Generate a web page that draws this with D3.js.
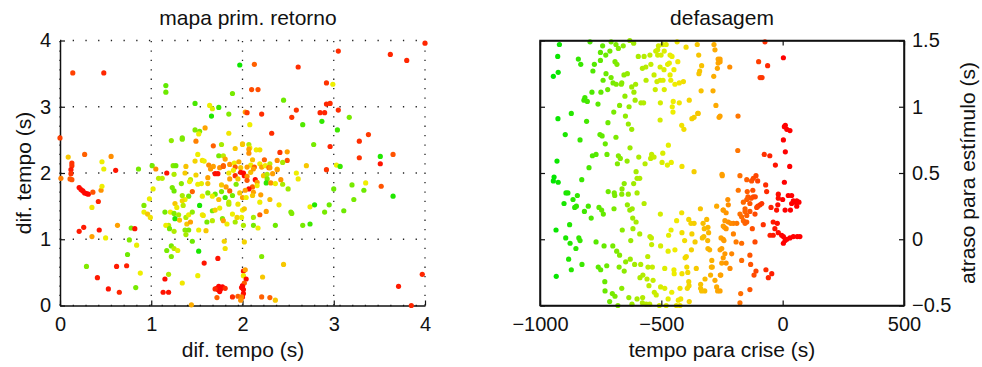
<!DOCTYPE html>
<html>
<head>
<meta charset="utf-8">
<script src="https://cdnjs.cloudflare.com/ajax/libs/d3/7.8.5/d3.min.js"></script>
<style>
body { margin: 0; background: #fff; }
text { font-family: "Liberation Sans", Arial, Helvetica, sans-serif; fill: #111; }
</style>
</head>
<body>
<div id="chart"></div>
<script>
'use strict';

// tick labels
var retornoTicks = [0, 1, 2, 3, 4];
var tempoTicks = [-1000, -500, 0, 500];
var atrasoTicks = [-0.5, 0, 0.5, 1, 1.5];

// left panel: [dif. tempo n, dif. tempo n+1, tempo para crise (colour)]
var retorno = [
[0.14,3.51,-100],[0.48,3.51,-60],[1.97,3.63,-920],[1.16,3.32,-750],[1.16,3.22,-720],[1.89,3.20,-700],[1.48,3.05,-800],[1.64,3.02,-450],[1.67,2.97,-480],[1.74,2.99,-820],
[1.66,2.86,-880],[1.85,2.89,-680],[2.03,2.92,-250],[0.00,2.53,-100],[1.48,2.65,-680],[1.53,2.63,-700],[1.52,2.59,-450],[1.59,2.68,-260],[1.22,2.49,-650],[1.34,2.51,-680],
[1.34,2.53,-690],[1.49,2.48,-200],[1.68,2.41,-150],[1.85,2.60,-430],[1.77,2.43,-600],[1.92,2.37,-350],[2.00,2.44,-330],[0.09,2.24,-350],[0.27,2.28,-150],[0.46,2.17,-450],
[0.56,2.25,-220],[0.13,2.15,-80],[0.13,2.11,-80],[1.51,2.28,-450],[1.48,2.18,-380],[1.56,2.19,-420],[1.58,2.18,-450],[1.74,2.26,-700],[1.79,2.26,-550],[1.81,2.21,-260],
[1.63,2.12,-220],[1.68,2.10,-250],[1.79,2.11,-150],[1.86,2.13,-230],[1.91,2.15,-450],[1.96,2.17,-280],[1.92,2.09,-140],[1.98,2.08,-350],[1.01,2.11,-700],[1.24,2.11,-680],
[1.27,2.11,-720],[1.38,2.10,-340],[0.48,2.06,-460],[0.61,2.04,-30],[0.86,2.06,-700],[1.05,2.06,-220],[0.12,2.05,-40],
[2.13,3.64,-150],[2.61,3.60,-70],[3.05,3.84,-70],[3.62,3.79,-60],[3.80,3.70,-60],[4.00,3.96,-60],[2.10,3.26,-120],[2.17,3.26,-120],[2.92,3.36,-80],[2.99,3.34,-450],
[2.45,3.10,-720],[2.92,3.04,-60],[2.96,3.05,-70],[2.05,2.91,-90],[2.21,2.89,-70],[2.59,2.95,-80],[2.54,2.84,-80],[2.85,2.91,-60],[2.90,2.91,-60],[3.05,2.95,-70],
[2.87,2.78,-850],[2.66,2.73,-780],[3.17,2.84,-700],[2.08,2.73,-450],[3.04,2.65,-820],[2.32,2.60,-70],[3.28,2.48,-70],[3.38,2.58,-90],[2.78,2.43,-700],[2.96,2.40,-60],
[2.00,2.43,-350],[2.07,2.43,-580],[2.08,2.38,-450],[2.15,2.35,-450],[2.19,2.35,-420],[2.07,2.36,-250],[2.07,2.30,-230],[2.41,2.31,-80],[2.49,2.32,-250],[2.11,2.20,-330],
[2.24,2.20,-150],[2.38,2.19,-220],[2.49,2.19,-130],[3.28,2.23,-80],[3.51,2.25,-880],[3.65,2.28,-130],[3.51,2.14,-30],[2.09,2.12,-450],[2.19,2.14,-450],[2.30,2.14,-550],
[2.44,2.16,-600],[2.70,2.11,-350],[3.03,2.12,-450],[3.07,2.10,-830],[2.05,2.09,-250],[2.13,2.09,-150],[2.21,2.09,-260],[2.25,2.11,-450],[2.29,2.08,-140],[2.38,2.06,-420],
[2.92,2.05,-80],
[0.01,1.92,-200],[0.11,1.91,-150],[0.13,1.90,-130],[0.12,1.99,-80],[0.21,1.78,-20],[0.23,1.75,-20],[0.25,1.73,-15],[0.27,1.70,-10],[0.29,1.69,-10],[0.31,1.68,-5],
[0.36,1.71,-130],[0.45,1.74,-230],[0.46,1.80,-450],[0.42,1.57,-60],[0.35,1.48,-430],[0.92,1.51,-680],[0.92,1.41,-450],[0.96,1.38,-350],[0.99,1.33,-420],[0.98,1.61,-450],
[1.02,1.76,-460],[1.08,1.92,-560],[1.12,1.92,-560],[1.17,2.00,-30],[1.25,1.98,-580],[1.37,2.00,-360],[1.23,1.78,-700],[1.25,1.73,-720],[1.33,1.84,-660],[1.43,1.90,-560],
[1.42,1.87,-450],[1.49,1.97,-380],[1.51,1.83,-450],[1.55,1.84,-470],[1.62,1.93,-250],[1.62,1.84,-340],[1.65,2.06,-240],[1.70,1.99,-20],[1.73,1.99,-20],[1.75,2.08,-230],
[1.79,2.10,-150],[1.85,2.00,-430],[1.86,1.91,-250],[1.90,2.04,-450],[1.92,1.96,-70],[1.98,2.01,-30],[1.95,1.91,-350],[1.77,1.82,-350],[1.82,1.79,-250],[1.86,1.73,-150],
[1.93,1.83,-680],[1.89,1.66,-700],[1.81,1.63,-800],[1.74,1.60,-330],[1.77,1.72,-690],[1.70,1.68,-720],[1.67,1.65,-450],[1.62,1.70,-660],[1.56,1.65,-460],[1.53,1.51,-900],
[1.45,1.72,-150],[1.41,1.65,-700],[1.37,1.60,-450],[1.34,1.66,-600],[1.34,1.58,-380],[1.26,1.54,-350],[1.28,1.48,-440],[1.35,1.51,-560],[1.21,1.41,-450],[1.15,1.41,-700],
[1.25,1.39,-680],[1.30,1.37,-600],[1.26,1.31,-880],[1.31,1.29,-330],[1.38,1.33,-580],[1.41,1.37,-460],[1.45,1.41,-650],[1.56,1.37,-450],[1.57,1.36,-430],[1.67,1.43,-700],
[1.70,1.44,-370],[1.75,1.47,-450],[1.78,1.31,-680],[1.79,1.28,-250],[1.67,1.28,-560],[1.61,1.26,-700],[1.83,1.23,-450],[1.92,1.26,-600],[1.94,1.33,-380],[1.89,1.38,-450],
[1.85,1.53,-580],[1.85,1.56,-550],[1.95,1.53,-430],[2.00,1.44,-450],[2.00,1.63,-250],[1.97,1.70,-350],[1.39,1.23,-350],[1.43,1.26,-250],[1.19,1.21,-560],[1.16,1.21,-450],
[1.20,1.16,-700],[1.25,1.12,-580],[1.37,1.14,-660],[1.41,1.14,-680],[1.38,1.07,-600],[1.52,1.14,-450],[1.60,1.13,-350],[1.45,0.97,-720],[1.52,0.82,-900],[1.73,0.71,-30],
[1.80,0.97,-380],[1.81,0.86,-420],[1.58,0.64,-30],[1.51,0.45,-450],[1.17,0.83,-700],[1.22,0.90,-700],[1.25,0.86,-560],[1.29,0.83,-470],[1.22,0.74,-680],[1.19,0.47,-580],
[1.15,0.40,-20],[1.13,0.20,-30],[1.19,0.20,-30],[1.34,0.34,-430],[1.44,0.01,-280],[1.72,0.26,-10],[1.74,0.29,-10],[1.76,0.25,-5],[1.78,0.28,-5],[1.73,0.24,-10],
[1.75,0.21,-10],[1.70,0.25,-60],[1.81,0.26,-70],[1.72,0.12,-150],[1.89,0.13,-70],[1.95,0.14,-150],[1.99,0.27,-20],[2.00,0.30,-20],[2.01,0.18,-20],[2.00,0.13,-30],
[0.76,0.99,-680],[0.84,0.91,-460],[0.74,0.77,-720],[0.78,1.17,-700],[0.82,1.16,-30],[0.63,1.21,-250],[0.50,1.02,-450],[0.35,1.04,-250],[0.43,1.14,-30],[0.26,1.18,-40],
[0.21,1.12,-40],[0.29,0.59,-680],[0.62,0.59,-40],[0.73,0.60,-50],[0.88,0.49,-450],[0.41,0.42,-40],[0.53,0.25,-30],[0.65,0.20,-60],[0.83,0.27,-700],
[2.01,2.00,-10],[2.02,1.96,-10],[2.05,1.95,-230],[2.09,2.01,-330],[2.12,2.06,-250],[2.30,2.08,-240],[2.23,1.96,-350],[2.27,1.98,-580],[2.27,1.91,-680],[2.33,1.99,-250],
[2.38,2.05,-250],[2.26,1.85,-850],[2.31,1.85,-220],[2.36,1.84,-450],[2.44,1.83,-600],[2.50,1.76,-620],[2.42,1.90,-230],[2.05,1.89,-130],[2.14,1.90,-20],[2.16,1.86,-240],
[2.11,1.79,-150],[2.07,1.76,-20],[2.12,1.71,-250],[2.03,1.74,-250],[2.16,1.81,-450],[2.20,1.67,-250],[2.11,1.66,-350],[2.04,1.63,-450],[2.30,1.60,-330],[2.19,1.56,-450],
[2.40,1.52,-440],[2.26,1.42,-250],[2.19,1.37,-150],[2.02,1.46,-350],[1.99,1.33,-450],[2.12,1.33,-600],[2.01,1.21,-580],[2.12,1.21,-700],[2.17,1.17,-450],[2.36,1.21,-720],
[2.53,1.41,-680],[2.54,1.39,-680],[2.74,1.49,-450],[2.79,1.52,-880],[2.90,1.41,-700],[2.95,1.52,-720],[2.66,1.21,-700],[2.74,1.23,-820],[2.59,2.00,-450],[2.61,1.91,-440],
[3.00,1.76,-720],[3.11,1.43,-720],[3.20,1.82,-700],[3.22,1.60,-700],[3.33,1.74,-720],[3.35,1.85,-450],[3.52,1.80,-130],[3.65,1.65,-880],[2.02,0.96,-380],[2.21,0.74,-680],
[2.45,0.62,-350],[2.01,0.52,-20],[2.03,0.54,-250],[2.01,0.45,-450],[2.04,0.40,-20],[2.02,0.34,-140],[2.00,0.29,-10],[2.01,0.24,-10],[2.22,0.43,-350],[1.99,0.13,-200],
[2.21,0.13,-150],[2.30,0.12,-150],[2.36,0.08,-350],[3.71,0.29,-40],[3.97,0.47,-60],[3.85,0.00,-60],[1.98,0.08,-230]
];

// right panel: [tempo para crise (s), atraso para estimulo (s)]
var defasagem = [
[-920,1.47],[-927,1.38],[-925,1.26],[-945,1.23],[-794,1.49],[-842,1.36],[-832,1.32],[-742,1.46],[-707,1.49],[-712,1.42],
[-687,1.47],[-677,1.44],[-657,1.46],[-630,1.50],[-614,1.48],[-751,1.41],[-729,1.39],[-751,1.35],[-776,1.32],[-782,1.27],
[-691,1.34],[-683,1.32],[-728,1.25],[-707,1.22],[-740,1.20],[-699,1.18],[-686,1.17],[-663,1.18],[-665,1.17],[-654,1.24],
[-640,1.25],[-721,1.13],[-749,1.11],[-786,1.11],[-815,1.07],[-819,1.05],[-805,1.04],[-761,1.02],[-871,0.95],[-926,0.91],
[-808,0.89],[-896,0.79],[-835,0.75],[-753,0.79],[-744,0.78],[-731,0.72],[-687,0.77],[-696,0.96],[-720,0.88],[-672,1.01],
[-648,0.93],[-636,0.87],[-622,0.83],[-633,1.00],[-650,1.08],[-622,1.15],[-613,1.11],[-606,1.17],[-608,1.05],[-584,1.03],
[-573,1.03],[-629,0.69],[-724,0.64],[-769,0.64],[-784,0.63],[-677,0.63],[-669,0.61],[-641,0.59],[-681,0.57],[-930,0.59],
[-798,0.54],
[-595,1.38],[-571,1.38],[-547,1.39],[-564,1.30],[-578,1.29],[-543,1.32],[-530,1.24],[-563,1.20],[-523,1.42],[-515,1.43],
[-512,1.46],[-494,1.47],[-480,1.47],[-515,1.39],[-501,1.39],[-488,1.42],[-464,1.39],[-456,1.38],[-474,1.32],[-467,1.33],
[-505,1.30],[-489,1.28],[-448,1.28],[-432,1.34],[-464,1.24],[-518,1.19],[-505,1.20],[-493,1.20],[-461,1.20],[-444,1.17],
[-426,1.18],[-409,1.19],[-525,1.13],[-488,1.13],[-504,1.03],[-451,1.04],[-426,1.03],[-455,1.00],[-452,0.96],[-385,1.05],
[-505,0.90],[-416,0.86],[-407,0.83],[-374,0.91],[-365,0.92],[-350,0.95],[-348,0.95],[-471,0.71],[-540,0.64],[-544,0.61],
[-530,0.62],[-567,0.57],[-593,0.62],[-494,0.65],[-497,0.58],[-475,0.56],[-459,0.58],[-415,0.55],[-435,1.49],[-398,1.45],
[-352,1.47],[-346,1.39],[-334,1.31],[-342,1.27],[-345,1.25],[-336,1.12],[-283,1.47],[-279,1.43],[-266,1.36],[-266,1.33],
[-269,1.29],[-284,1.23],[-287,1.12],[-275,1.01],[-262,0.92],
[-73,1.49],[-258,1.36],[-258,1.34],[-218,1.30],[-99,1.34],[-62,1.31],[3,1.37],[-93,1.22],[-85,1.22],[-258,0.93],
[-184,0.93],[11,0.86],[7,0.85],[17,0.83],[30,0.82],[3,0.75],[-185,0.67],[-76,0.64],[-53,0.63],[11,0.66],
[-30,0.56],[29,0.55],
[-365,0.51],[-250,0.49],[-942,0.47],[-945,0.44],[-925,0.43],[-828,0.45],[-604,0.51],[-600,0.46],[-589,0.46],[-614,0.42],
[-653,0.42],[-662,0.38],[-719,0.36],[-694,0.35],[-692,0.33],[-663,0.34],[-636,0.34],[-600,0.35],[-893,0.35],[-885,0.35],
[-846,0.33],[-864,0.30],[-901,0.27],[-857,0.24],[-850,0.25],[-801,0.25],[-817,0.21],[-757,0.24],[-746,0.22],[-739,0.19],
[-789,0.16],[-695,0.23],[-640,0.26],[-630,0.22],[-620,0.23],[-571,0.27],[-618,0.16],[-604,0.13],[-661,0.07],[-617,0.08],
[-589,0.04],[-547,0.02],[-541,0.01],[-626,-0.01],[-540,-0.04],[-504,0.19],[-878,0.11],[-934,0.07],[-894,0.01],[-840,0.01],
[-835,-0.01],[-876,-0.03],[-852,-0.07],[-769,-0.02],[-736,-0.05],[-700,-0.05],[-684,-0.09],[-672,-0.12],[-647,-0.17],[-628,-0.15],
[-610,-0.19],[-585,-0.19],[-556,-0.13],[-537,-0.21],[-555,-0.21],[-576,-0.27],[-588,-0.29],[-559,-0.30],[-534,-0.31],[-674,-0.21],
[-653,-0.24],[-760,-0.21],[-750,-0.23],[-725,-0.20],[-882,-0.15],[-871,-0.23],[-827,-0.19],[-933,-0.28],[-733,-0.32],[-732,-0.39],
[-702,-0.41],[-691,-0.43],[-663,-0.37],[-713,-0.47],[-679,-0.50],[-634,-0.44],[-600,-0.45],[-577,-0.44],[-621,-0.49],[-578,-0.48],
[-562,-0.49],[-548,-0.49],[-551,-0.35],[-529,-0.40],[-521,-0.42],[-503,-0.36],[-503,-0.05],[-486,-0.22],[-472,-0.09],[-448,-0.23],
[-447,-0.26],[-486,-0.37],[-472,-0.45],[-480,-0.50],[-457,-0.40],[-438,-0.50],[-423,-0.50],[-430,-0.46],[-420,-0.45],[-423,-0.37],
[-415,-0.26],[-470,0.03],[-460,0.07],[-444,-0.08],[-416,0.20],[-437,0.14],[-415,0.05],[-404,-0.01],[-402,-0.14],[-397,-0.13],
[-387,0.15],[-378,0.12],[-365,0.12],[-374,0.04],[-361,-0.02],[-376,-0.08],[-339,0.23],[-328,0.12],[-313,0.15],[-323,0.08],
[-308,0.09],[-305,0.05],[-325,0.02],[-309,-0.01],[-331,0.01],[-308,-0.07],[-301,-0.08],[-292,-0.16],[-290,-0.21],[-272,0.25],
[-245,0.22],[-240,0.09],[-254,0.01],[-258,-0.08],[-395,-0.21],[-356,-0.22],[-391,-0.25],[-387,-0.32],[-386,-0.35],[-393,-0.37],
[-338,-0.34],[-338,-0.37],[-320,-0.30],[-321,-0.39],[-297,-0.27],[-279,-0.31],[-257,-0.27],[-272,-0.36],[-268,-0.39],[-294,-0.21],
[-334,-0.39],
[-249,0.48],[-176,0.48],[-148,0.45],[-128,0.44],[-121,0.46],[-110,0.48],[-103,0.44],[-70,0.41],[7,0.43],[-183,0.37],
[-146,0.36],[-123,0.37],[-66,0.36],[-18,0.34],[23,0.33],[37,0.33],[44,0.29],[58,0.29],[67,0.28],[51,0.28],
[37,0.27],[58,0.25],[0,0.30],[-18,0.31],[-20,0.26],[-48,0.24],[-25,0.22],[10,0.22],[32,0.22],[-143,0.32],
[-130,0.31],[-121,0.32],[-113,0.32],[-148,0.30],[-162,0.28],[-135,0.27],[-102,0.25],[-93,0.26],[-86,0.27],[-107,0.24],
[-226,0.30],[-224,0.26],[-155,0.23],[-135,0.21],[-245,0.22],[-233,0.20],[-176,0.19],[-155,0.21],[-114,0.19],[-148,0.18],
[-169,0.17],[-162,0.14],[-155,0.12],[-148,0.13],[-189,0.12],[-203,0.12],[-214,0.12],[-224,0.13],[-238,0.14],[-245,0.10],
[-233,0.08],[-203,0.04],[-125,0.08],[-80,0.11],[-39,0.13],[-22,0.12],[-32,0.08],[-52,0.03],[-39,0.03],[-18,0.05],
[-4,0.03],[3,0.02],[17,0.00],[30,0.01],[44,0.02],[60,0.02],[71,0.02],[10,-0.01],[3,-0.03],[-114,-0.02],
[-169,-0.03],[-192,-0.02],[-245,0.00],[-242,-0.01],[-251,-0.07],[-238,-0.11],[-210,-0.11],[-135,-0.12],[-245,-0.14],[-251,-0.18],
[-233,-0.18],[-217,-0.22],[-169,-0.16],[-132,-0.19],[-110,-0.24],[-118,-0.27],[-69,-0.23],[-45,-0.26],[-59,-0.29],[-255,-0.27],
[-258,-0.39],[-135,-0.38],[-173,-0.41],[-176,-0.48],[-508,-0.50],[-385,-0.47]
];

var w = 982;
var h = 367;

// Create SVG
var svg = d3.select("#chart")
            .append("svg")
            .attr("width", w)
            .attr("height", h);

// colour by time to seizure: green -> yellow -> orange -> red
var color = d3.scaleLinear()
    .domain([-950, -450, -250, 0])
    .range(["#00e600", "#eeee00", "#ffa000", "#ff0000"])
    .clamp(true);

var num = d3.format("");

// ---------- left panel ----------
var xL = d3.scaleLinear().domain([0, 4]).range([60, 425]);
var yL = d3.scaleLinear().domain([0, 4]).range([305.5, 40.5]);

var left = svg.append("g");

// dotted grid
left.selectAll(".gx")
  .data(retornoTicks)
  .enter()
  .append("line")
    .attr("x1", function(d){ return xL(d); })
    .attr("x2", function(d){ return xL(d); })
    .attr("y1", yL(0))
    .attr("y2", yL(4))
    .attr("stroke", "#222")
    .attr("stroke-width", 1.3)
    .attr("stroke-dasharray", "1.3,8.1");

left.selectAll(".gy")
  .data(retornoTicks)
  .enter()
  .append("line")
    .attr("x1", xL(0))
    .attr("x2", xL(4))
    .attr("y1", function(d){ return yL(d); })
    .attr("y2", function(d){ return yL(d); })
    .attr("stroke", "#222")
    .attr("stroke-width", 1.3)
    .attr("stroke-dasharray", "1.3,11.4");

// axes
left.append("g")
    .attr("transform", "translate(0," + yL(0) + ")")
    .call(d3.axisBottom(xL).tickValues(retornoTicks).tickFormat(num)
          .tickSizeInner(-5).tickSizeOuter(0).tickPadding(11));
left.append("g")
    .attr("transform", "translate(" + xL(0) + ",0)")
    .call(d3.axisLeft(yL).tickValues(retornoTicks).tickFormat(num)
          .tickSizeInner(-5).tickSizeOuter(0).tickPadding(9));

// points
left.selectAll("circle")
  .data(retorno)
  .enter()
  .append("circle")
    .attr("cx", function(d){ return xL(d[0]); })
    .attr("cy", function(d){ return yL(d[1]); })
    .attr("r", 2.6)
    .attr("fill", function(d){ return color(d[2]); });

left.append("text")
    .attr("x", 248).attr("y", 25)
    .attr("text-anchor", "middle")
    .attr("font-size", "21px")
    .text("mapa prim. retorno");
left.append("text")
    .attr("x", 243).attr("y", 357)
    .attr("text-anchor", "middle")
    .attr("font-size", "21px")
    .text("dif. tempo (s)");
left.append("text")
    .attr("transform", "translate(31,173) rotate(-90)")
    .attr("text-anchor", "middle")
    .attr("font-size", "21px")
    .text("dif. tempo (s)");

// ---------- right panel ----------
var xR = d3.scaleLinear().domain([-1000, 500]).range([540, 904]);
var yR = d3.scaleLinear().domain([-0.5, 1.5]).range([305.5, 40.5]);

var right = svg.append("g");

right.selectAll("circle")
  .data(defasagem)
  .enter()
  .append("circle")
    .attr("cx", function(d){ return xR(d[0]); })
    .attr("cy", function(d){ return yR(d[1]); })
    .attr("r", 2.6)
    .attr("fill", function(d){ return color(d[0]); });

right.append("g")
    .attr("transform", "translate(0," + yR(-0.5) + ")")
    .call(d3.axisBottom(xR).tickValues(tempoTicks).tickFormat(num)
          .tickSizeInner(-5).tickSizeOuter(0).tickPadding(11));
right.append("g")
    .attr("transform", "translate(0," + yR(1.5) + ")")
    .call(d3.axisTop(xR).tickValues(tempoTicks).tickFormat("")
          .tickSizeInner(-5).tickSizeOuter(0));
right.append("g")
    .attr("transform", "translate(" + xR(500) + ",0)")
    .call(d3.axisRight(yR).tickValues(atrasoTicks).tickFormat(num)
          .tickSizeInner(-5).tickSizeOuter(0).tickPadding(8));
right.append("g")
    .attr("transform", "translate(" + xR(-1000) + ",0)")
    .call(d3.axisLeft(yR).tickValues(atrasoTicks).tickFormat("")
          .tickSizeInner(-5).tickSizeOuter(0));

// box
right.append("rect")
    .attr("x", xR(-1000)).attr("y", yR(1.5))
    .attr("width", xR(500) - xR(-1000))
    .attr("height", yR(-0.5) - yR(1.5))
    .attr("fill", "none")
    .attr("stroke", "#111")
    .attr("stroke-width", 1.5);

right.append("text")
    .attr("x", 722).attr("y", 25)
    .attr("text-anchor", "middle")
    .attr("font-size", "21px")
    .text("defasagem");
right.append("text")
    .attr("x", 722).attr("y", 357)
    .attr("text-anchor", "middle")
    .attr("font-size", "21px")
    .text("tempo para crise (s)");
right.append("text")
    .attr("transform", "translate(975,173) rotate(-90)")
    .attr("text-anchor", "middle")
    .attr("font-size", "21px")
    .text("atraso para estímulo (s)");

// axis styling, MATLAB look
svg.selectAll(".tick text")
    .attr("font-size", "20px")
    .attr("font-family", "'Liberation Sans', Arial, sans-serif")
    .attr("fill", "#111");
svg.selectAll(".tick line")
    .attr("stroke", "#111")
    .attr("stroke-width", 1.2);
svg.selectAll(".domain")
    .attr("stroke", "#111")
    .attr("stroke-width", 1.5);
</script>
</body>
</html>
